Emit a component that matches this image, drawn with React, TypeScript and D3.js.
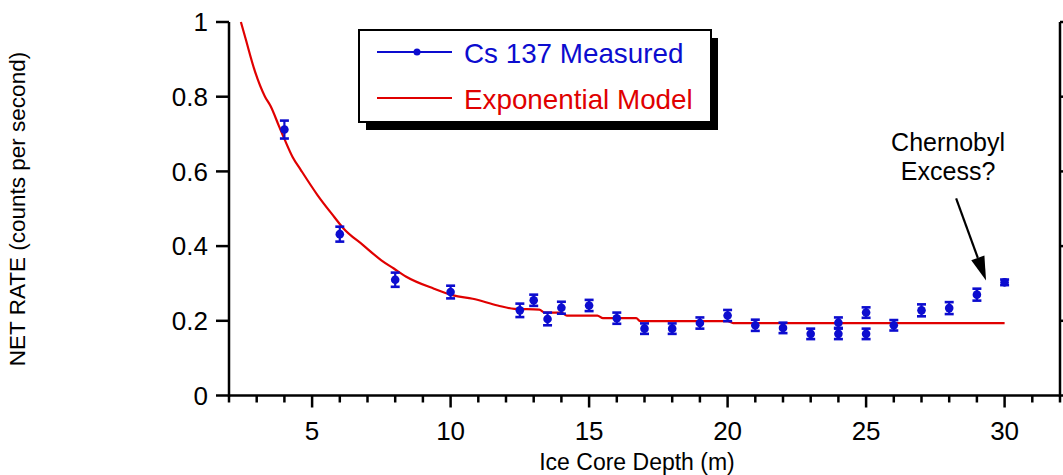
import React from "react";
import * as d3 from "d3";

// Measured Cs-137 net rate vs ice core depth
const depths = [4, 6, 8, 10, 12.5, 13, 13.5, 14, 15, 16, 17, 18, 19, 20, 21, 22, 23, 24, 24, 25, 25, 26, 27, 28, 29, 30];
const rates = [0.712, 0.432, 0.31, 0.277, 0.228, 0.255, 0.205, 0.235, 0.241, 0.207, 0.179, 0.179, 0.194, 0.214, 0.188, 0.181, 0.165, 0.195, 0.165, 0.222, 0.165, 0.188, 0.228, 0.234, 0.27, 0.303];
const errors = [0.024, 0.02, 0.019, 0.017, 0.018, 0.015, 0.017, 0.016, 0.015, 0.015, 0.014, 0.014, 0.015, 0.015, 0.015, 0.014, 0.014, 0.014, 0.014, 0.014, 0.014, 0.014, 0.016, 0.016, 0.016, 0.0075];

// Exponential model curve
const modelDepth = [2.43, 2.6, 2.94, 3.3, 3.5, 3.8, 4.0, 4.3, 4.6, 5.2, 5.8, 6.1, 6.85, 7.5, 7.95, 8.4, 9.4, 10.1, 10.8, 11.7, 12.3, 13.2, 13.4, 14.0, 14.2, 15.3, 15.5, 16.7, 16.85, 20.0, 20.2, 30];
const modelRate = [1.0, 0.955, 0.867, 0.8, 0.775, 0.722, 0.687, 0.638, 0.603, 0.536, 0.478, 0.45, 0.402, 0.362, 0.34, 0.318, 0.286, 0.268, 0.259, 0.241, 0.232, 0.23, 0.222, 0.222, 0.214, 0.214, 0.207, 0.207, 0.199, 0.199, 0.194, 0.194];

const xMajor = [5, 10, 15, 20, 25, 30];
const xMinor = d3.range(2, 33, 1);
const yTicks = [0, 0.2, 0.4, 0.6, 0.8, 1];
const yTickLabels = ["0", "0.2", "0.4", "0.6", "0.8", "1"];

const xTitle = "Ice Core Depth (m)";
const yTitle = "NET RATE  (counts per second)";
const legendLabels = ["Cs 137 Measured", "Exponential Model"];
const noteLines = ["Chernobyl", "Excess?"];
const noteText = { x: 27.96, y1: 0.654, y2: 0.578 };
const noteArrow = { x1: 28.25, y1: 0.528, x2: 29.33, y2: 0.308 };

const BLUE = "#0c0ccf";
const RED = "#e00000";
const FONT = "'Liberation Sans', Arial, Helvetica, sans-serif";

export default function App() {
  const W = 1063;
  const H = 475;
  const x = d3.scaleLinear().domain([2, 32]).range([229, 1060]);
  const y = d3.scaleLinear().domain([0, 1]).range([395.5, 22]);

  const line = d3
    .line<number>()
    .x((_, i) => x(modelDepth[i]))
    .y((d) => y(d))
    .curve(d3.curveMonotoneX);

  const ax0 = x(2);
  const ax1 = x(32);
  const ay0 = y(0);
  const ay1 = y(1);

  // arrow geometry
  const ax = x(noteArrow.x1), ay = y(noteArrow.y1);
  const bx = x(noteArrow.x2), by = y(noteArrow.y2);
  const ang = Math.atan2(by - ay, bx - ax);
  const headLen = 24, headW = 7;
  const baseX = bx - headLen * Math.cos(ang);
  const baseY = by - headLen * Math.sin(ang);
  const px = -Math.sin(ang), py = Math.cos(ang);
  const head = `M${bx},${by} L${baseX + px * headW},${baseY + py * headW} L${baseX - px * headW},${baseY - py * headW} Z`;

  const lx = 359, ly = 30, lw = 352, lh = 92;

  return (
    <svg width={W} height={H} style={{ position: "absolute", left: 0, top: 0, background: "#fff" }} fontFamily={FONT}>
      <rect x={0} y={0} width={W} height={H} fill="#fff" />
      {/* axes */}
      <g stroke="#000" strokeWidth={2.5} fill="none">
        <line x1={ax0} y1={ay1} x2={ax0} y2={ay0 + 1.25} />
        <line x1={ax0} y1={ay0} x2={ax1} y2={ay0} />
        <line x1={ax1} y1={ay1} x2={ax1} y2={ay0 + 1.25} />
        {yTicks.map((t) => (
          <line key={"yl" + t} x1={ax0 - 13} x2={ax0} y1={y(t)} y2={y(t)} />
        ))}
        {yTicks.map((t) => (
          <line key={"yr" + t} x1={ax1} x2={ax1 + 8} y1={y(t)} y2={y(t)} />
        ))}
        {xMinor.map((t) => (
          <line key={"xm" + t} x1={x(t)} x2={x(t)} y1={ay0} y2={ay0 + (xMajor.includes(t) ? 12 : 7)} />
        ))}
      </g>
      {/* tick labels */}
      <g fontSize={26} fill="#000">
        {yTicks.map((t, i) => (
          <text key={"ytl" + t} x={ax0 - 21} y={y(t)} dy="0.36em" textAnchor="end">
            {yTickLabels[i]}
          </text>
        ))}
        {xMajor.map((t) => (
          <text key={"xtl" + t} x={x(t)} y={440} textAnchor="middle">
            {t}
          </text>
        ))}
      </g>
      <text x={637} y={470} fontSize={23} textAnchor="middle">{xTitle}</text>
      <text transform={`translate(25,209) rotate(-90)`} fontSize={22.5} textAnchor="middle">{yTitle}</text>

      {/* model line */}
      <path d={line(modelRate) || ""} fill="none" stroke={RED} strokeWidth={2.2} />

      {/* measured points */}
      <g stroke={BLUE} strokeWidth={2.2} fill={BLUE}>
        {depths.map((d, i) => {
          const cx = x(d);
          const hi = y(rates[i] + errors[i]);
          const lo = y(rates[i] - errors[i]);
          return (
            <g key={"p" + i}>
              <line x1={cx} x2={cx} y1={hi} y2={lo} />
              <line x1={cx - 4.5} x2={cx + 4.5} y1={hi} y2={hi} strokeWidth={2.6} />
              <line x1={cx - 4.5} x2={cx + 4.5} y1={lo} y2={lo} strokeWidth={2.6} />
              <circle cx={cx} cy={y(rates[i])} r={4.3} stroke="none" />
            </g>
          );
        })}
      </g>

      {/* legend */}
      <rect x={lx + 7} y={ly + 8} width={lw} height={lh} fill="#000" />
      <rect x={lx} y={ly} width={lw} height={lh} fill="#fff" stroke="#000" strokeWidth={2} />
      <line x1={377} x2={452} y1={52} y2={52} stroke={BLUE} strokeWidth={2.2} />
      <circle cx={417} cy={52} r={3.5} fill={BLUE} />
      <text x={464} y={63} fontSize={27.8} fill={BLUE}>{legendLabels[0]}</text>
      <line x1={377} x2={452} y1={98} y2={98} stroke={RED} strokeWidth={2.2} />
      <text x={464} y={109} fontSize={27.8} fill={RED}>{legendLabels[1]}</text>

      {/* annotation */}
      <g fontSize={25} textAnchor="middle" fill="#000">
        <text x={x(noteText.x)} y={y(noteText.y1)}>{noteLines[0]}</text>
        <text x={x(noteText.x)} y={y(noteText.y2)}>{noteLines[1]}</text>
      </g>
      <line x1={ax} y1={ay} x2={baseX} y2={baseY} stroke="#000" strokeWidth={2.2} />
      <path d={head} fill="#000" />
    </svg>
  );
}
